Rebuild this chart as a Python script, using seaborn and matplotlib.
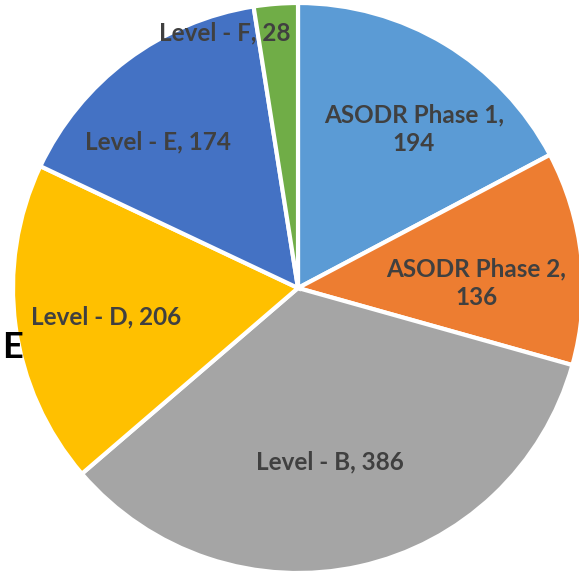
import numpy as np
import matplotlib
matplotlib.use("Agg")
import matplotlib.pyplot as plt
import seaborn as sns

# data
labels = ["ASODR Phase 1", "ASODR Phase 2", "Level - B", "Level - D", "Level - E", "Level - F"]
values = [194, 136, 386, 206, 174, 28]
hex_colors = ["#5B9BD5", "#ED7D31", "#A5A5A5", "#FFC000", "#4472C4", "#70AD47"]

# label placement (fraction of radius, angle shift in degrees) - Excel "best fit" look
label_dist = [0.69, 0.625, 0.62, 0.68, 0.71, 0.93]
label_shift = [-5, -4.5, -2, 1, 7, 11.5]

sns.set_theme(style="white")
plt.rcParams["font.family"] = ["Lato", "DejaVu Sans"]
palette = sns.color_palette(hex_colors)

fig = plt.figure(figsize=(5.79, 5.73), dpi=100)
ax = fig.add_axes([0, 0, 1, 1])

wedges, _ = ax.pie(values, colors=palette, startangle=90, counterclock=False,
                   radius=1, wedgeprops=dict(edgecolor="white", linewidth=3))

# keep the pie cropped like the reference (centre at ~298,288 px, radius 285 px)
ax.set_xlim(-298 / 285, (579 - 298) / 285)
ax.set_ylim(-285 / 285, 288 / 285)
ax.set_aspect("auto")
ax.axis("off")

for w, lab, v, d, s in zip(wedges, labels, values, label_dist, label_shift):
    mid = np.deg2rad((w.theta1 + w.theta2) / 2 + s)
    x, y = d * np.cos(mid), d * np.sin(mid)
    txt = f"{lab},\n{v}" if lab.startswith("ASODR") else f"{lab}, {v}"
    ax.text(x, y, txt, ha="center", va="center", fontsize=17.5, fontweight="bold",
            color="#404040", linespacing=1.3)

# stray letter at the left edge of the original picture
fig.text(0.003, 0.393, "E", fontsize=26, fontweight="bold", color="black",
         ha="left", va="center")

fig.savefig("out.png", dpi=100)
